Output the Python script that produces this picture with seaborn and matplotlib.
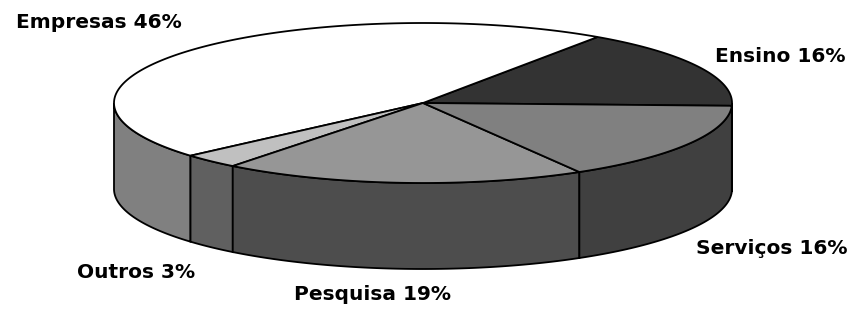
import numpy as np
import matplotlib
matplotlib.use("Agg")
import matplotlib.pyplot as plt
import seaborn as sns
from matplotlib.patches import Polygon

# Data, counterclockwise from the right edge of the pie
labels = ['Ensino', 'Empresas', 'Outros', 'Pesquisa', 'Serviços']
shares = [16, 46, 3, 19, 16]
top_colors = ['#333333', '#ffffff', '#c0c0c0', '#969696', '#808080']
side_colors = ['#2a2a2a', '#808080', '#606060', '#4d4d4d', '#404040']

# label centres in pixel space (image coords)
label_xy = [(780, 56), (99, 23), (136, 272), (373, 295), (772, 248)]

sns.set_theme(style="white")
plt.rcParams['font.family'] = ['DejaVu Sans']

# geometry of the tilted pie (pixels)
cx, cy = 423, 103
rx, ry = 309, 80
depth = 86
start = -2.0

fig = plt.figure(figsize=(8.6, 3.11), dpi=100)
ax = fig.add_axes([0, 0, 1, 1])
ax.set_xlim(0, 860)
ax.set_ylim(311, 0)
ax.axis('off')


def ell(t_deg, dy=0.0):
    t = np.radians(t_deg)
    return cx + rx * np.cos(t), cy - ry * np.sin(t) + dy


angles = start + np.concatenate([[0], np.cumsum(shares)]) / sum(shares) * 360.0

# side walls on the front half
for i in range(len(shares)):
    t1, t2 = angles[i], angles[i + 1]
    for f1, f2 in [(-180, 0), (180, 360)]:
        a1, a2 = max(t1, f1), min(t2, f2)
        if a2 - a1 <= 0.01:
            continue
        ts = np.linspace(a1, a2, 120)
        xt, yt = ell(ts)
        xb, yb = ell(ts[::-1], depth)
        pts = np.column_stack([np.concatenate([xt, xb]), np.concatenate([yt, yb])])
        ax.add_patch(Polygon(pts, closed=True, facecolor=side_colors[i],
                             edgecolor='black', linewidth=1.3, zorder=2))

# top wedges
for i in range(len(shares)):
    ts = np.linspace(angles[i], angles[i + 1], 200)
    xt, yt = ell(ts)
    pts = np.column_stack([np.concatenate([[cx], xt]), np.concatenate([[cy], yt])])
    ax.add_patch(Polygon(pts, closed=True, facecolor=top_colors[i],
                         edgecolor='black', linewidth=1.3, zorder=3))

for lab, val, (x, y) in zip(labels, shares, label_xy):
    ax.text(x, y, f'{lab} {val}%', ha='center', va='center',
            fontsize=14.5, fontweight='bold', color='black', zorder=5)

fig.savefig('out.png', dpi=100)
